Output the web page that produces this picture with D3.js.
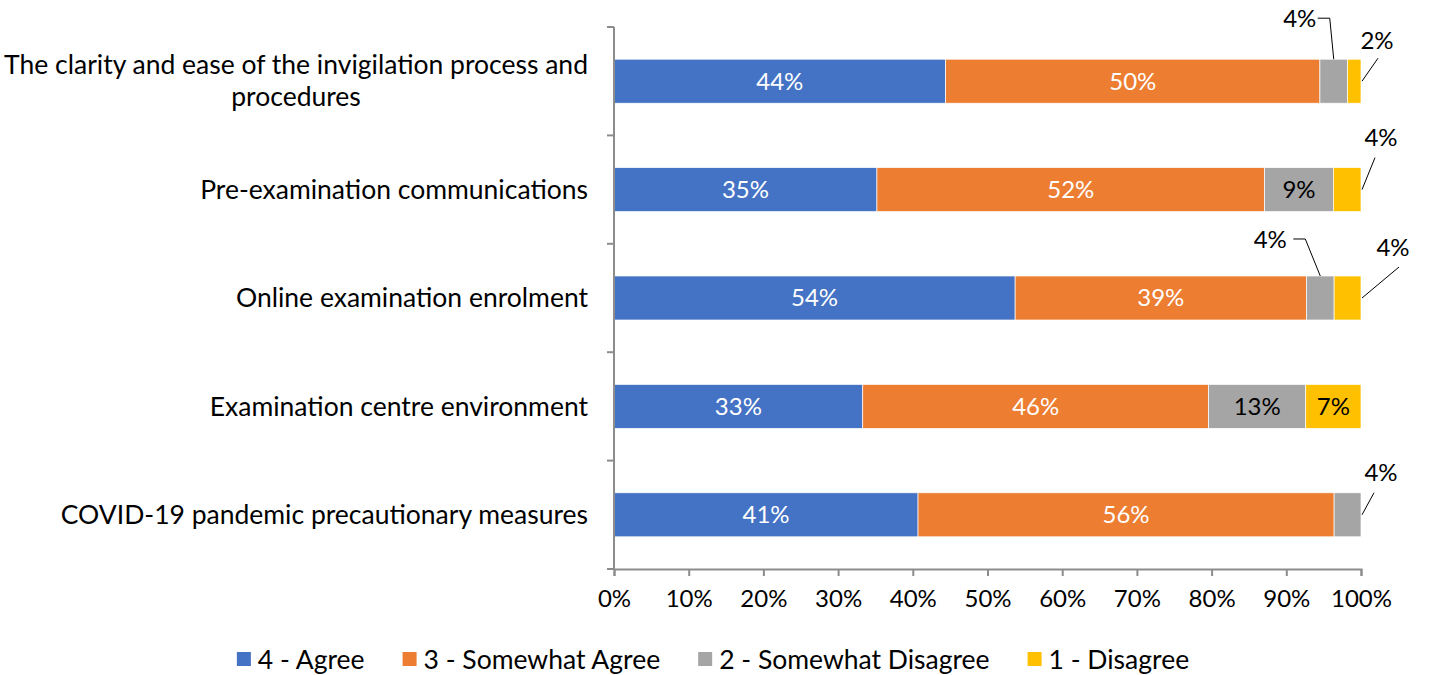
<!DOCTYPE html>
<html>
<head>
<meta charset="utf-8">
<script src="https://cdn.jsdelivr.net/npm/d3@7"></script>
<style>
body { margin: 0; background: #fff; }
text { font-family: Lato, "Open Sans", sans-serif; }
</style>
</head>
<body>
<div id="my_viz"></div>
<script>
const width = 1434
const height = 675
const margin = {top:27, right:73, bottom:106, left:614}

// data
const categories = [
"The clarity and ease of the invigilation process and procedures",
"Pre-examination communications",
"Online examination enrolment",
"Examination centre environment",
"COVID-19 pandemic precautionary measures"
]
const seriesNames = ["4 - Agree", "3 - Somewhat Agree", "2 - Somewhat Disagree", "1 - Disagree"]
const agree = [44.4, 35.2, 53.7, 33.3, 40.7]
const somewhatAgree = [50.1, 51.9, 39.0, 46.3, 55.7]
const somewhatDisagree = [3.7, 9.2, 3.7, 13.0, 3.6]
const disagree = [1.8, 3.7, 3.6, 7.4, 0]
const xTicks = [0, 10, 20, 30, 40, 50, 60, 70, 80, 90, 100]

const colors = ["#4472C4", "#ED7D31", "#A5A5A5", "#FFC000"]
const labelColors = ["#fff", "#fff", "#000", "#000"]

// small segments get an outside label with a leader line
// anchor: "top" = top centre of the segment, "end" = right end, mid height
// (dx,dy) = label centre from anchor, (sx,sy) = leader start from label centre
const callouts = [
{row:0, s:2, anchor:"top", dx:-34, dy:-41, sx:18, sy:0, elbow:-4},
{row:0, s:3, anchor:"end", dx:15, dy:-41, sx:1, sy:18},
{row:1, s:3, anchor:"end", dx:19, dy:-52, sx:-6, sy:20},
{row:2, s:2, anchor:"top", dx:-50, dy:-36, sx:23, sy:-1, elbow:-15},
{row:2, s:3, anchor:"end", dx:31, dy:-50, sx:6, sy:19},
{row:4, s:2, anchor:"end", dx:19, dy:-42, sx:-7, sy:20}
]

const bounded = {
width : width - margin.left - margin.right,
height : height - margin.top - margin.bottom
}

const rows = categories.map((c, i) => ({
cat: c,
"4 - Agree": agree[i],
"3 - Somewhat Agree": somewhatAgree[i],
"2 - Somewhat Disagree": somewhatDisagree[i],
"1 - Disagree": disagree[i]
}))

const stacked = d3.stack().keys(seriesNames)(rows)

var svg = d3.select("#my_viz")
.append("svg")
.attr("width", width)
.attr("height", height)

var group = svg.append("g")
.attr("transform", "translate(" + margin.left + "," + margin.top + ")")

var x = d3.scaleLinear().domain([0, 100]).range([0, bounded.width])
var y = d3.scaleBand().domain(categories).range([0, bounded.height])
.paddingInner(0.594).paddingOuter(0.297)

const axisColor = "#8c8c8c"
const fs = 24
const fsCat = 26.5

// bars
stacked.forEach((layer, s) => {
	group.selectAll(".bar" + s)
	.data(layer)
	.enter()
	.append("rect")
	.attr("x", d => x(d[0]))
	.attr("y", d => y(d.data.cat))
	.attr("width", d => Math.max(0, x(d[1]) - x(d[0])))
	.attr("height", y.bandwidth())
	.attr("fill", colors[s])
	.attr("stroke", "#fff")
	.attr("stroke-width", 0.7)
})

// inside labels
stacked.forEach((layer, s) => {
	layer.forEach((d, row) => {
		const v = d[1] - d[0]
		if (v <= 0) return
		if (callouts.some(c => c.row === row && c.s === s)) return
		group.append("text")
		.attr("x", (x(d[0]) + x(d[1])) / 2)
		.attr("y", y(d.data.cat) + y.bandwidth() / 2)
		.attr("dy", "0.35em")
		.attr("text-anchor", "middle")
		.attr("fill", labelColors[s])
		.style("font-size", fs + "px")
		.text(Math.round(v) + "%")
	})
})

// outside labels with leader lines
callouts.forEach(c => {
	const d = stacked[c.s][c.row]
	const y0 = y(d.data.cat)
	let ax, ay
	if (c.anchor === "top") { ax = (x(d[0]) + x(d[1])) / 2; ay = y0 }
	else { ax = x(d[1]) + 1; ay = y0 + y.bandwidth() / 2 }
	const lx = ax + c.dx, ly = ay + c.dy
	let pts = [[lx + c.sx, ly + c.sy]]
	if (c.elbow !== undefined) pts.push([ax + c.elbow, ly + c.sy])
	pts.push([ax, ay])
	group.append("path")
	.attr("d", d3.line()(pts))
	.attr("fill", "none")
	.attr("stroke", "#000")
	.attr("stroke-width", 1)
	group.append("text")
	.attr("x", lx)
	.attr("y", ly)
	.attr("dy", "0.35em")
	.attr("text-anchor", "middle")
	.style("font-size", fs + "px")
	.text(Math.round(d[1] - d[0]) + "%")
})

// x axis
var xg = group.append("g")
.attr("transform", "translate(0," + bounded.height + ")")
.call(d3.axisBottom(x).tickValues(xTicks).tickSize(7).tickPadding(14).tickFormat(d => d + "%"))
xg.select(".domain").attr("stroke", axisColor).attr("stroke-width", 2)
xg.selectAll(".tick line").attr("stroke", axisColor).attr("stroke-width", 2)
xg.selectAll(".tick text").attr("fill", "#000").style("font-size", fs + "px").style("font-family", "Lato")

// y axis: ticks at band boundaries
var yg = group.append("g")
yg.append("line")
.attr("x1", 0).attr("x2", 0).attr("y1", 0).attr("y2", bounded.height)
.attr("stroke", axisColor).attr("stroke-width", 2)
const bounds = categories.map(c => y(c) - y.step() * y.paddingInner() / 2)
bounds.push(bounded.height)
yg.selectAll(".ytick")
.data(bounds)
.enter()
.append("line")
.attr("x1", -7).attr("x2", 0)
.attr("y1", d => d).attr("y2", d => d)
.attr("stroke", axisColor).attr("stroke-width", 2)

// category labels, wrapped
const maxLabel = 590
const lineH = 32
categories.forEach(c => {
	const t = svg.append("text")
	.style("font-size", fsCat + "px")
	.attr("text-anchor", "middle")
	const words = c.split(" ")
	let lines = [], cur = []
	words.forEach(w => {
		cur.push(w)
		t.text(cur.join(" "))
		if (t.node().getComputedTextLength() > maxLabel && cur.length > 1) {
			cur.pop()
			lines.push(cur.join(" "))
			cur = [w]
		}
	})
	lines.push(cur.join(" "))
	let wmax = 0
	lines.forEach(l => { t.text(l); wmax = Math.max(wmax, t.node().getComputedTextLength()) })
	t.text(null)
	const right = margin.left - 26
	const cx = right - wmax / 2
	const cy = margin.top + y(c) + y.bandwidth() / 2
	lines.forEach((l, i) => {
		t.append("tspan")
		.attr("x", cx)
		.attr("y", cy + (i - (lines.length - 1) / 2) * lineH)
		.attr("dy", "0.35em")
		.text(l)
	})
})

// legend
const legend = svg.append("g")
const sq = 14, gapText = 7, gapItem = 38
let lx = 0
seriesNames.forEach((n, i) => {
	const g = legend.append("g")
	g.append("rect").attr("x", 0).attr("y", -sq / 2 - 1).attr("width", sq).attr("height", sq).attr("fill", colors[i])
	const t = g.append("text").attr("x", sq + gapText).attr("dy", "0.35em").style("font-size", fsCat + "px").text(n)
	const w = sq + gapText + t.node().getComputedTextLength()
	g.attr("transform", "translate(" + lx + ",0)")
	lx += w + gapItem
})
const totalW = lx - gapItem
legend.attr("transform", "translate(" + (713 - totalW / 2) + ",660)")
</script>
</body>
</html>
